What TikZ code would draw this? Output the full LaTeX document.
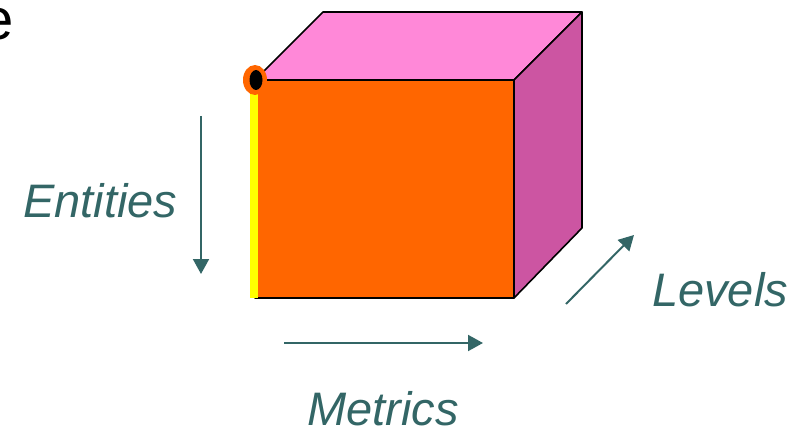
\documentclass[tikz,border=0pt]{standalone}
\usepackage{fontspec}
\setmainfont{Liberation Sans}
\usetikzlibrary{positioning,arrows.meta}
\usepackage{xcolor}
\definecolor{frontorange}{HTML}{FF6600}
\definecolor{toppink}{HTML}{FF88D8}
\definecolor{sidepink}{HTML}{CC55A2}
\definecolor{axisteal}{HTML}{336666}
\definecolor{edgeyellow}{HTML}{FFFF00}

\begin{document}
\begin{tikzpicture}[
    x=1pt, y=-1pt,
    axisarrow/.style={draw=axisteal, line width=2pt, -{Triangle[length=15pt, width=16pt]}},
    axislabel/.style={text=axisteal, font=\fontsize{47}{56}\selectfont\itshape, inner sep=0pt, anchor=base west},
    cubeface/.style={draw=black, line width=1.6pt, line join=round},
]
\useasboundingbox (0,0) rectangle (804,428);

% cube corners
\coordinate (ftl) at (255,80);
\coordinate (ftr) at (514,80);
\coordinate (fbr) at (514,298);
\coordinate (fbl) at (255,298);
\coordinate (btl) at (323,12);
\coordinate (btr) at (582,12);
\coordinate (bbr) at (582,228);

% faces
\filldraw[cubeface, fill=toppink] (ftl) -- (btl) -- (btr) -- (ftr) -- cycle;
\filldraw[cubeface, fill=sidepink] (ftr) -- (btr) -- (bbr) -- (fbr) -- cycle;
\filldraw[cubeface, fill=frontorange] (ftl) -- (ftr) -- (fbr) -- (fbl) -- cycle;

% highlighted edge and corner
\fill[edgeyellow] (250,80) rectangle (258,298);
\fill[frontorange] (ftl) ellipse [x radius=12, y radius=15];
\fill[black] (256,80) ellipse [x radius=6.5, y radius=10];

% cut-off word at the top
\node[anchor=base east, inner sep=0pt, font=\fontsize{58}{70}\selectfont] (title) at (14,40) {e};

% axes
\coordinate (entstart) at (201,116);
\coordinate (entend) at (201,274);
\coordinate (metstart) at (284,343);
\coordinate (metend) at (483,343);
\coordinate (levstart) at (566,304);
\coordinate (levend) at (634,235);
\draw[axisarrow] (entstart) -- (entend);
\draw[axisarrow] (metstart) -- (metend);
\draw[axisarrow] (levstart) -- (levend);

\node[axislabel] (entities) at (23,217) {Entities};
\node[axislabel] (metrics) at (307,425) {Metrics};
\node[axislabel] (levels) at (652,306) {Levels};
\end{tikzpicture}
\end{document}
